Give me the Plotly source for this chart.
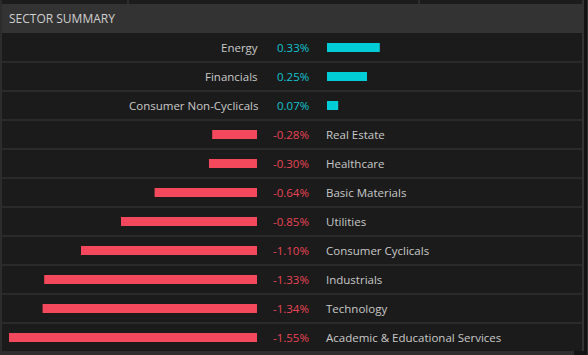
import plotly.graph_objects as go

# ---- data ----
sectors = ["Energy", "Financials", "Consumer Non-Cyclicals", "Real Estate", "Healthcare",
           "Basic Materials", "Utilities", "Consumer Cyclicals", "Industrials", "Technology",
           "Academic & Educational Services"]
changes = [0.33, 0.25, 0.07, -0.28, -0.30, -0.64, -0.85, -1.10, -1.33, -1.34, -1.55]
title_text = "SECTOR SUMMARY"

# ---- layout constants (pixels) ----
W, H = 588, 355
PX_PER_PCT = 160.0
NEG_ZERO = 257      # x pixel of zero for negative bars
POS_ZERO = 327      # x pixel of zero for positive bars
PCT_RIGHT = 309
ROWS_TOP, ROW_H = 33, 29
n = len(sectors)
ROWS_BOT = ROWS_TOP + ROW_H * n

POS_COLOR = "#00cdd6"
POS_TEXT = "#12c3cf"
NEG_COLOR = "#f4485c"
NEG_TEXT = "#ea4556"
TEXT = "#c9c9c9"
FONT = "Open Sans, Roboto, sans-serif"
FS = 11.5

def px(x):
    return x / W

def py(y):
    return 1 - y / H

idx = list(range(n))
neg_x = [v if v < 0 else None for v in changes]
pos_x = [v if v > 0 else None for v in changes]

fig = go.Figure()
fig.add_trace(go.Bar(x=neg_x, y=idx, orientation="h", xaxis="x", yaxis="y",
                     marker=dict(color=NEG_COLOR, line=dict(width=0)), width=0.31,
                     hoverinfo="skip"))
fig.add_trace(go.Bar(x=pos_x, y=idx, orientation="h", xaxis="x2", yaxis="y",
                     marker=dict(color=POS_COLOR, line=dict(width=0)), width=0.31,
                     hoverinfo="skip"))

annotations = []
for i, (name, v) in enumerate(zip(sectors, changes)):
    col = POS_TEXT if v > 0 else NEG_TEXT
    annotations.append(dict(x=px(PCT_RIGHT), y=i, xref="paper", yref="y", xshift=2,
                            text=f"{v:.2f}%", showarrow=False, xanchor="right",
                            font=dict(size=FS, color=col, family=FONT)))
    if v > 0:
        annotations.append(dict(x=px(NEG_ZERO), y=i, xref="paper", yref="y", text=name,
                                showarrow=False, xanchor="right", xshift=3,
                                font=dict(size=FS, color=TEXT, family=FONT)))
    else:
        annotations.append(dict(x=px(POS_ZERO), y=i, xref="paper", yref="y", text=name,
                                showarrow=False, xanchor="left", xshift=-3,
                                font=dict(size=FS, color=TEXT, family=FONT)))

annotations.append(dict(x=px(7), y=py(18.5), xref="paper", yref="paper", text=title_text,
                        showarrow=False, xanchor="left", yanchor="middle",
                        font=dict(size=12, color="#d0d0d0", family=FONT)))

shapes = [
    # panel background
    dict(type="rect", xref="paper", yref="paper", x0=px(2), x1=px(582), y0=py(351), y1=py(0),
         fillcolor="#1b1b1b", line=dict(width=0), layer="below"),
    # top strip
    dict(type="rect", xref="paper", yref="paper", x0=px(2), x1=px(582), y0=py(4), y1=py(0),
         fillcolor="#1c1c1c", line=dict(width=0), layer="below"),
    dict(type="line", xref="paper", yref="paper", x0=px(128), x1=px(128), y0=py(4), y1=py(0),
         line=dict(color="#333333", width=1.5), layer="below"),
    dict(type="line", xref="paper", yref="paper", x0=px(419), x1=px(419), y0=py(4), y1=py(0),
         line=dict(color="#333333", width=1.5), layer="below"),
    # header band
    dict(type="rect", xref="paper", yref="paper", x0=px(2), x1=px(582), y0=py(33), y1=py(4),
         fillcolor="#333333", line=dict(width=0), layer="below"),
    # borders
    dict(type="line", xref="paper", yref="paper", x0=px(1), x1=px(1), y0=py(351), y1=py(0),
         line=dict(color="#2c2c2c", width=2), layer="below"),
    dict(type="line", xref="paper", yref="paper", x0=px(583), x1=px(583), y0=py(351), y1=py(0),
         line=dict(color="#333333", width=2), layer="below"),
    dict(type="line", xref="paper", yref="paper", x0=px(587.5), x1=px(587.5), y0=py(355), y1=py(0),
         line=dict(color="#2c2c2c", width=1), layer="below"),
    # bottom strip
    dict(type="rect", xref="paper", yref="paper", x0=px(0), x1=px(574), y0=py(355), y1=py(351),
         fillcolor="#2e2e2e", line=dict(width=0), layer="below"),
]
for k in range(n - 1):
    shapes.append(dict(type="line", xref="paper", yref="y", x0=px(2), x1=px(582),
                       y0=k + 0.5, y1=k + 0.5, line=dict(color="#3a3a3a", width=1.2),
                       layer="below"))

fig.update_layout(
    width=W, height=H, autosize=False,
    margin=dict(l=0, r=0, t=0, b=0, pad=0),
    paper_bgcolor="#141414", plot_bgcolor="rgba(0,0,0,0)",
    showlegend=False, barmode="overlay",
    xaxis=dict(domain=[0, px(NEG_ZERO)], range=[-NEG_ZERO / PX_PER_PCT, 0],
               visible=False, fixedrange=True),
    xaxis2=dict(domain=[px(POS_ZERO), 1], range=[0, (W - POS_ZERO) / PX_PER_PCT],
                visible=False, fixedrange=True, anchor="y"),
    yaxis=dict(domain=[py(ROWS_BOT), py(ROWS_TOP)], range=[n - 0.5, -0.5],
               visible=False, fixedrange=True),
    annotations=annotations, shapes=shapes,
)

fig.write_html("out.html", config={"displayModeBar": False},
               post_script="document.body.style.margin='0';document.body.style.overflow='hidden';")
